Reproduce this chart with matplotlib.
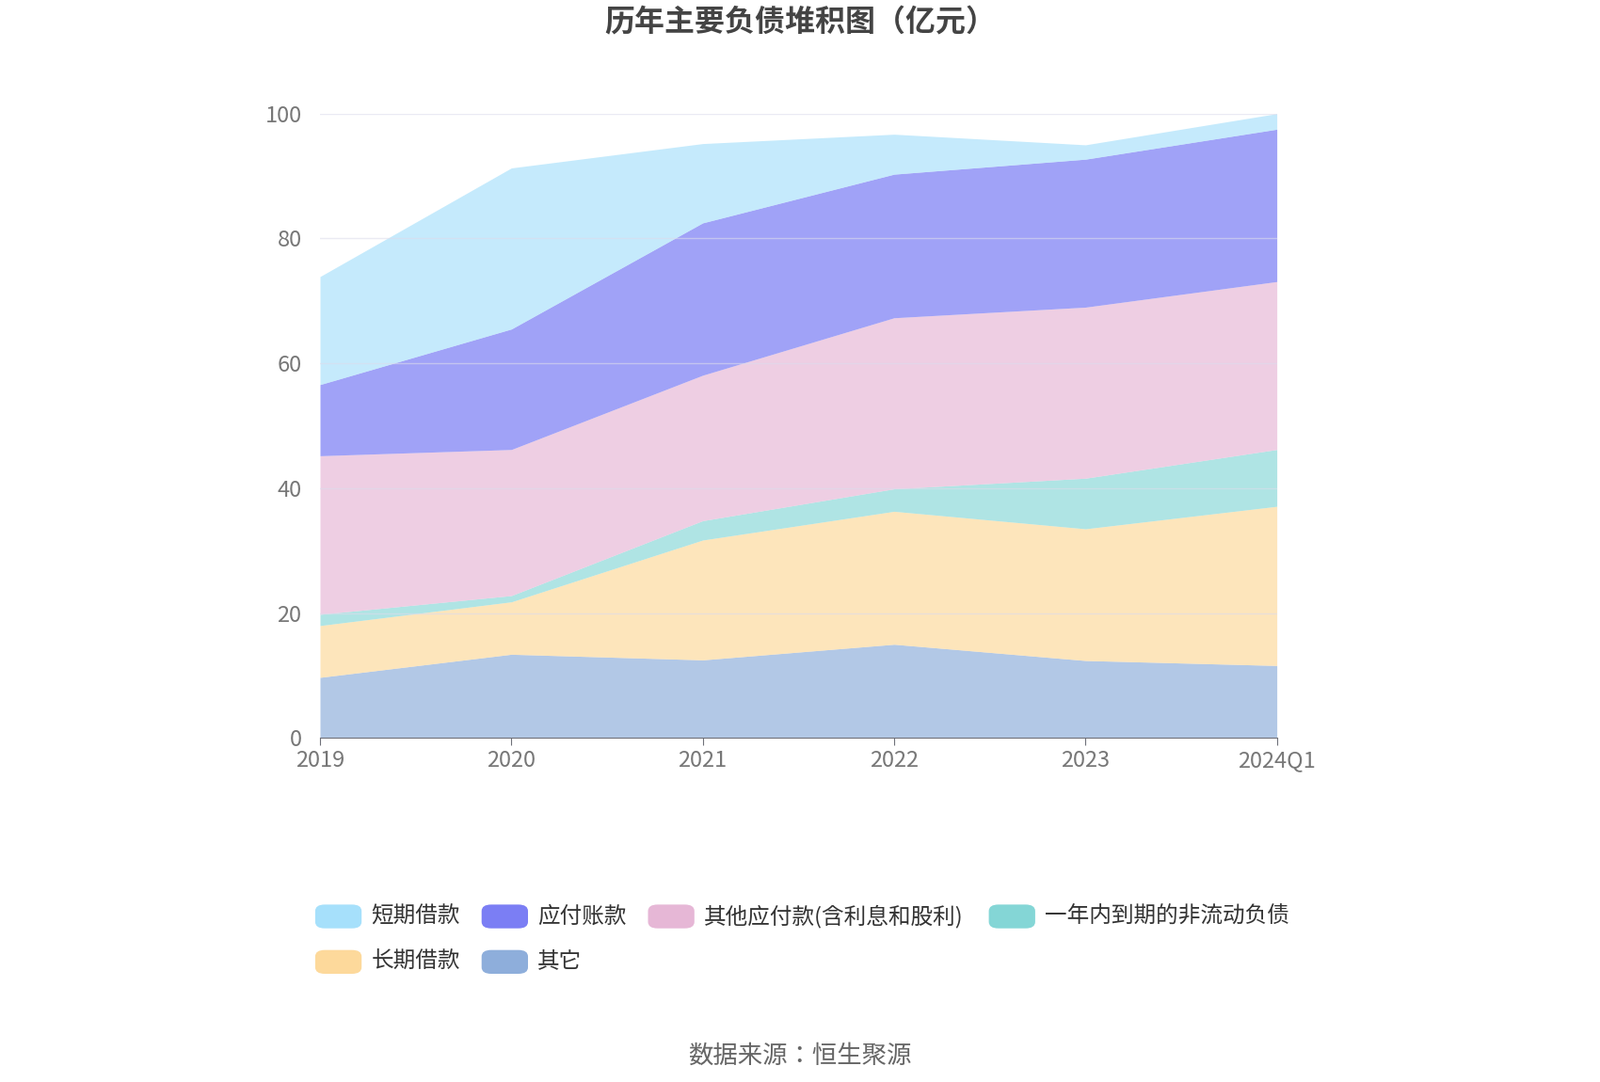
import matplotlib
matplotlib.use("Agg")
import matplotlib.pyplot as plt
import numpy as np
from matplotlib.patches import FancyBboxPatch

plt.rcParams['font.family'] = ['Noto Sans CJK SC', 'Noto Sans CJK JP', 'Noto Sans CJK TC', 'DejaVu Sans']
plt.rcParams['font.sans-serif'] = ['Noto Sans CJK SC', 'Noto Sans CJK JP', 'DejaVu Sans']

years = ["2019", "2020", "2021", "2022", "2023", "2024Q1"]
other = [9.7, 13.4, 12.5, 15.0, 12.4, 11.6]
long_loan = [8.3, 8.4, 19.2, 21.3, 21.1, 25.5]
noncurrent_due = [1.8, 1.0, 3.1, 3.6, 8.1, 9.1]
other_payable = [25.4, 23.4, 23.3, 27.4, 27.4, 26.9]
acct_payable = [11.4, 19.3, 24.4, 23.0, 23.7, 24.4]
short_loan = [17.3, 25.8, 12.7, 6.4, 2.3, 2.5]

series = [("其它", other, "#8eaedb", 0.68),
          ("长期借款", long_loan, "#fdd99b", 0.68),
          ("一年内到期的非流动负债", noncurrent_due, "#84d6d6", 0.65),
          ("其他应付款(含利息和股利)", other_payable, "#e6b7d6", 0.68),
          ("应付账款", acct_payable, "#7b7ef4", 0.72),
          ("短期借款", short_loan, "#a6e0fb", 0.65)]

fig = plt.figure(figsize=(17, 11.5), dpi=100)
ax = fig.add_axes([0.2, 0.318, 0.598, 0.577])
x = np.arange(len(years))
base = np.zeros(len(years))
for name, vals, c, a in series:
    top = base + np.array(vals)
    ax.fill_between(x, base, top, color=c, alpha=a, linewidth=0)
    base = top

ax.set_xlim(0, len(years) - 1)
ax.set_ylim(0, 100)
ax.set_yticks(range(0, 101, 20))
ax.set_xticks(x)
ax.set_xticklabels(years)
ax.grid(axis='y', color='#dcdcec', linewidth=1, alpha=0.6)
for s in ['top', 'right', 'left']:
    ax.spines[s].set_visible(False)
ax.spines['bottom'].set_color('#6e7079')
ax.tick_params(axis='y', length=0, labelsize=17, labelcolor='#777777', pad=14)
ax.tick_params(axis='x', length=6, color='#6e7079', labelsize=17, labelcolor='#777777')

fig.text(0.5, 0.979, "历年主要负债堆积图（亿元）", ha='center', va='center', fontsize=23, fontweight='bold', color='#444444')
fig.text(0.5, 0.024, "数据来源：恒生聚源", ha='center', va='center', fontsize=19, color='#666666')

legend_rows = [[("短期借款", "#a6e0fb", 0.197), ("应付账款", "#7b7ef4", 0.301),
                ("其他应付款(含利息和股利)", "#e6b7d6", 0.405), ("一年内到期的非流动负债", "#84d6d6", 0.618)],
               [("长期借款", "#fdd99b", 0.197), ("其它", "#8eaedb", 0.301)]]
for ry, row in zip([0.153, 0.111], legend_rows):
    for name, c, lx in row:
        fig.patches.append(FancyBboxPatch((lx, ry - 0.011), 0.029, 0.022,
                                          boxstyle="round,pad=0,rounding_size=0.006",
                                          transform=fig.transFigure, facecolor=c, edgecolor='none'))
        fig.text(lx + 0.035, ry, name, va='center', ha='left', fontsize=17, color='#333333')

fig.savefig("out.png", dpi=100)
